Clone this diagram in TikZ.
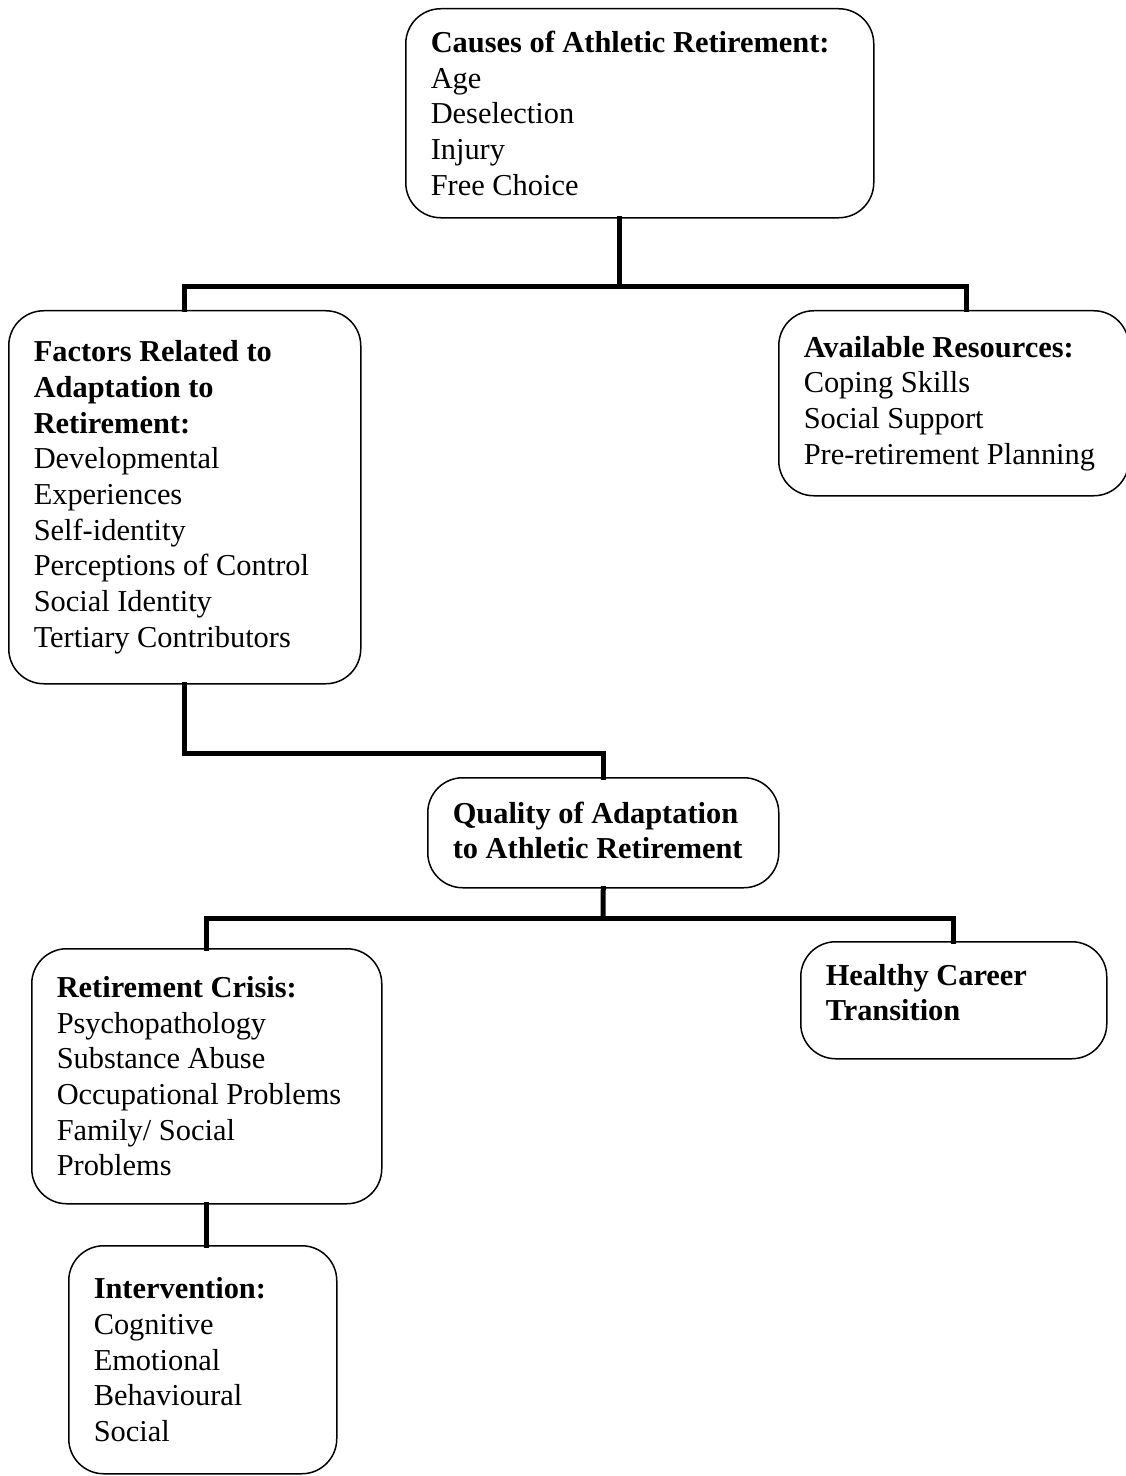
\documentclass[tikz,border=0pt]{standalone}
\usepackage{fontspec}
\setmainfont{Liberation Serif}
\hyphenpenalty=10000
\tikzset{
    box/.style={draw, line width=0.3mm, rounded corners=7mm, anchor=north west,
        align=flush left, inner xsep=5mm, inner ysep=2mm,
        font=\fontsize{17.3pt}{20.3pt}\selectfont},
    link/.style={line width=1mm, line cap=rect}
}
\begin{document}
\begin{tikzpicture}[x=0.2mm, y=-0.2mm]
    \useasboundingbox[fill=white] (0,0) rectangle (1125,1476);

    % --- Causes ---
    \node[box, text width=83.6mm, minimum height=41.8mm] (causes) at (405,8)
        {\textbf{Causes of Athletic Retirement:}\\Age\\Deselection\\Injury\\Free Choice};

    % --- Factors Related to Adaptation ---
    \node[box, text width=60.4mm, minimum height=74.6mm] (factors) at (8,310)
        {\textbf{Factors Related to}\\\textbf{Adaptation to}\\\textbf{Retirement:}\\Developmental\\Experiences\\Self-identity\\Perceptions of Control\\Social Identity\\Tertiary Contributors};

    % --- Available Resources ---
    \node[box, text width=60mm, minimum height=37mm] (avail) at (778,310)
        {\textbf{Available Resources:}\\Coping Skills\\Social Support\\Pre-retirement Planning};

    % --- Quality of Adaptation ---
    \node[box, text width=60.2mm, minimum height=22mm] (quality) at (427,777)
        {\textbf{Quality of Adaptation}\\\textbf{to Athletic Retirement}\\[-6.2mm]\mbox{}};

    % --- Retirement Crisis ---
    \node[box, text width=60mm, minimum height=51mm] (crisis) at (31,948)
        {\textbf{Retirement Crisis:}\\Psychopathology\\Substance Abuse\\Occupational Problems\\Family/ Social\\Problems};

    % --- Healthy Career Transition ---
    \node[box, text width=51.2mm, minimum height=23.4mm] (healthy) at (800,941)
        {\textbf{Healthy Career}\\\textbf{Transition}\\[-4mm]\mbox{}};

    % --- Intervention ---
    \node[box, text width=43.6mm, minimum height=45.6mm] (interv) at (68,1245)
        {\textbf{Intervention:}\\Cognitive\\Emotional\\Behavioural\\Social};

    % --- connectors ---
    \coordinate (split1) at (619,287);
    \coordinate (split2) at (603,918);
    \draw[link] (split1 |- causes.south) -- (split1);
    \draw[link] (factors.north) |- (split1) -| ([xshift=2.5mm]avail.north);
    \draw[link] (factors.south) -- ++(0,69) -| (quality.north);
    \draw[link] (quality.south) -- (split2);
    \draw[link] (crisis.north) |- (split2) -| (healthy.north);
    \draw[link] (crisis.south) -- (crisis.south |- interv.north);
\end{tikzpicture}
\end{document}
